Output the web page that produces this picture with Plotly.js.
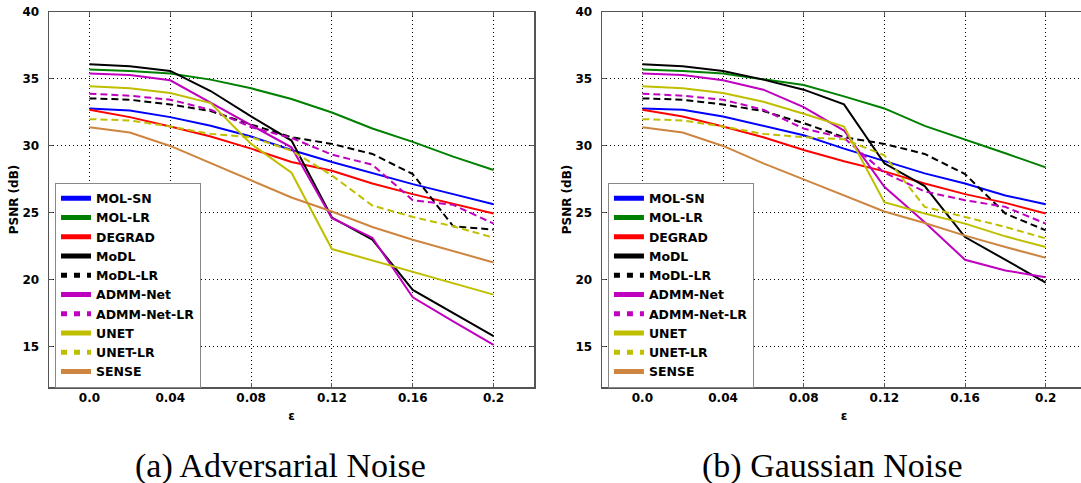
<!DOCTYPE html>
<html>
<head>
<meta charset="utf-8">
<script src="https://cdn.plot.ly/plotly-3.0.1.min.js"></script>
<style>
html, body { margin: 0; padding: 0; overflow: hidden; background: #fff; }
#chart { width: 1090px; height: 483px; }
</style>
</head>
<body>
<div id="chart"></div>
<script>
// ----- data -----
var eps = [0, 0.02, 0.04, 0.06, 0.08, 0.1, 0.12, 0.14, 0.16, 0.18, 0.2];
var xTickVals = [0, 0.04, 0.08, 0.12, 0.16, 0.2];
var xTickText = ['0.0', '0.04', '0.08', '0.12', '0.16', '0.2'];
var yTickVals = [15, 20, 25, 30, 35, 40];
var yTickText = ['15', '20', '25', '30', '35', '40'];

var seriesNames = ['MOL-SN', 'MOL-LR', 'DEGRAD', 'MoDL', 'MoDL-LR', 'ADMM-Net', 'ADMM-Net-LR', 'UNET', 'UNET-LR', 'SENSE'];

// (a) Adversarial noise
var advMOLSN   = [32.8, 32.65, 32.15, 31.5, 30.7, 29.7, 28.8, 27.95, 27.15, 26.4, 25.65];
var advMOLLR   = [35.7, 35.6, 35.4, 34.95, 34.3, 33.5, 32.5, 31.3, 30.3, 29.2, 28.2];
var advDEGRAD  = [32.7, 32.15, 31.45, 30.7, 29.8, 28.8, 28.15, 27.2, 26.4, 25.7, 24.95];
var advMoDL    = [36.1, 35.95, 35.6, 34.1, 32.2, 30.4, 24.65, 23.0, 19.25, 17.5, 15.8];
var advMoDLLR  = [33.55, 33.45, 33.1, 32.6, 31.6, 30.65, 30.15, 29.4, 27.9, 24.0, 23.75];
var advADMM    = [35.4, 35.3, 34.9, 33.2, 31.55, 29.9, 24.6, 23.15, 18.7, 16.9, 15.15];
var advADMMLR  = [33.9, 33.75, 33.45, 32.7, 31.4, 30.6, 29.35, 28.6, 25.95, 25.6, 24.2];
var advUNET    = [34.45, 34.3, 33.95, 33.2, 30.15, 28.0, 22.3, 21.45, 20.6, 19.75, 18.9];
var advUNETLR  = [32.0, 31.9, 31.45, 30.9, 30.65, 29.65, 27.8, 25.55, 24.7, 24.0, 23.15];
var advSENSE   = [31.4, 31.0, 30.0, 28.7, 27.4, 26.15, 25.1, 23.95, 23.0, 22.15, 21.3];

// (b) Gaussian noise
var gauMOLSN   = [32.8, 32.7, 32.2, 31.5, 30.8, 29.8, 28.9, 27.95, 27.2, 26.3, 25.65];
var gauMOLLR   = [35.7, 35.6, 35.4, 35.0, 34.55, 33.7, 32.8, 31.5, 30.5, 29.45, 28.4];
var gauDEGRAD  = [32.7, 32.2, 31.45, 30.65, 29.7, 28.85, 28.1, 27.2, 26.4, 25.75, 24.95];
var gauMoDL    = [36.1, 35.95, 35.6, 34.95, 34.2, 33.1, 28.7, 27.0, 23.2, 21.5, 19.8];
var gauMoDLLR  = [33.55, 33.45, 33.1, 32.6, 31.7, 30.65, 30.15, 29.4, 27.9, 24.95, 23.7];
var gauADMM    = [35.4, 35.3, 34.9, 34.2, 32.9, 31.15, 26.95, 24.3, 21.5, 20.7, 20.2];
var gauADMMLR  = [33.9, 33.75, 33.45, 32.7, 31.3, 30.6, 28.0, 26.6, 25.95, 25.45, 24.2];
var gauUNET    = [34.45, 34.3, 33.95, 33.3, 32.4, 31.45, 25.8, 24.95, 24.2, 23.25, 22.45];
var gauUNETLR  = [32.0, 31.9, 31.45, 30.9, 30.65, 30.5, 29.3, 25.45, 24.7, 23.95, 23.1];
var gauSENSE   = [31.4, 31.0, 30.0, 28.7, 27.5, 26.3, 25.1, 24.25, 23.3, 22.45, 21.65];

var advSeries = [advMOLSN, advMOLLR, advDEGRAD, advMoDL, advMoDLLR, advADMM, advADMMLR, advUNET, advUNETLR, advSENSE];
var gauSeries = [gauMOLSN, gauMOLLR, gauDEGRAD, gauMoDL, gauMoDLLR, gauADMM, gauADMMLR, gauUNET, gauUNETLR, gauSENSE];

// ----- styles -----
var colors = ['#0000ff', '#008000', '#ff0000', '#000000', '#000000', '#bf00bf', '#bf00bf', '#bfbf00', '#bfbf00', '#cd853f'];
var dashed = [false, false, false, false, true, false, true, false, true, false];

var traces = [];
function addPanel(series, xa, ya, legendId) {
  // plotted lines
  for (var i = 0; i < series.length; i++) {
    traces.push({
      x: eps, y: series[i], xaxis: xa, yaxis: ya,
      type: 'scatter', mode: 'lines', name: seriesNames[i],
      showlegend: false,
      line: { color: colors[i], width: 2, dash: dashed[i] ? '7px,4px' : 'solid' },
      hoverinfo: 'skip'
    });
  }
  // legend entries (thicker sample lines)
  for (var j = 0; j < series.length; j++) {
    traces.push({
      x: [null], y: [null], xaxis: xa, yaxis: ya,
      type: 'scatter', mode: 'lines', name: seriesNames[j],
      showlegend: true, legend: legendId,
      line: { color: colors[j], width: 5, dash: dashed[j] ? '6px,7px' : 'solid' }
    });
  }
}
addPanel(advSeries, 'x', 'y', 'legend');
addPanel(gauSeries, 'x2', 'y2', 'legend2');

var tickFont = { family: 'DejaVu Sans', size: 12, color: '#000', weight: 'bold' };

function xAxis(domain, anchor) {
  return {
    domain: domain, anchor: anchor,
    range: [-0.02, 0.22],
    tickmode: 'array', tickvals: xTickVals, ticktext: xTickText,
    tickfont: tickFont,
    showgrid: true, gridcolor: '#000', gridwidth: 1, griddash: '1px,3px',
    zeroline: false,
    showline: true, linecolor: '#555', linewidth: 1.5, mirror: 'ticks',
    ticks: 'inside', ticklen: 4, tickcolor: '#555', tickwidth: 1,
    ticklabelstandoff: -1,
    title: { text: 'ε', font: { family: 'DejaVu Sans', size: 12, color: '#000', weight: 'bold' }, standoff: 7 }
  };
}
function yAxis(anchor) {
  return {
    anchor: anchor,
    range: [12, 40],
    tickmode: 'array', tickvals: yTickVals, ticktext: yTickText,
    tickfont: tickFont,
    showgrid: true, gridcolor: '#000', gridwidth: 1, griddash: '1px,3px',
    zeroline: false,
    showline: true, linecolor: '#555', linewidth: 1.5, mirror: 'ticks',
    ticks: 'inside', ticklen: 4, tickcolor: '#555', tickwidth: 1,
    ticklabelstandoff: 6,
    title: { text: 'PSNR (dB)', font: { family: 'DejaVu Sans', size: 12, color: '#000', weight: 'bold' }, standoff: 1 }
  };
}

var legendFont = { family: 'DejaVu Sans', size: 12.5, color: '#000', weight: 'bold' };
function legendAt(x) {
  return {
    x: x, y: 0.545, xanchor: 'left', yanchor: 'top',
    xref: 'paper', yref: 'paper',
    bgcolor: '#ffffff', bordercolor: '#888', borderwidth: 1,
    font: legendFont, itemwidth: 30, tracegroupgap: 0
  };
}

var layout = {
  width: 1090, height: 483,
  margin: { l: 49, r: 4, t: 12, b: 96 },
  paper_bgcolor: '#fff', plot_bgcolor: '#fff',
  xaxis: xAxis([0, 0.4677], 'y'),
  yaxis: yAxis('x'),
  xaxis2: xAxis([0.5333, 1], 'y2'),
  yaxis2: yAxis('x2'),
  legend: legendAt(0.0058),
  legend2: legendAt(0.539),
  annotations: [
    { text: '(a) Adversarial Noise', xref: 'paper', yref: 'paper', x: 0.2228, y: -0.21,
      xanchor: 'center', yanchor: 'middle', showarrow: false,
      font: { family: 'Liberation Serif', size: 34, color: '#000' } },
    { text: '(b) Gaussian Noise', xref: 'paper', yref: 'paper', x: 0.756, y: -0.21,
      xanchor: 'center', yanchor: 'middle', showarrow: false,
      font: { family: 'Liberation Serif', size: 34, color: '#000' } }
  ],
  showlegend: true
};

Plotly.newPlot('chart', traces, layout, { staticPlot: true, displayModeBar: false });
</script>
</body>
</html>
